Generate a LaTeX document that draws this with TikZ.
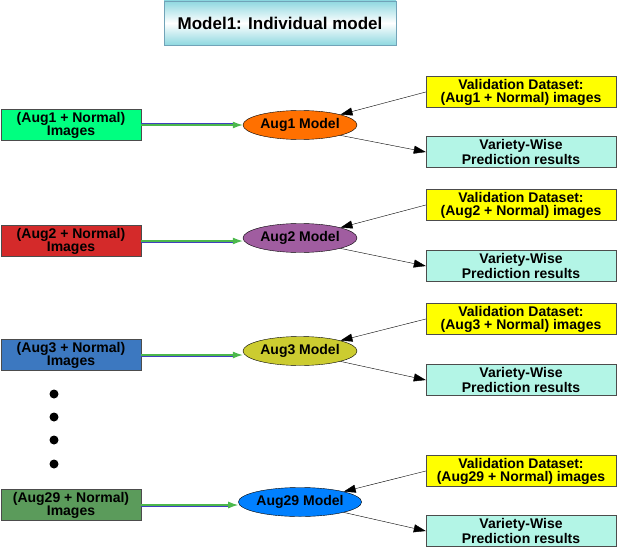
\documentclass[tikz,border=0pt]{standalone}
\usepackage{fontspec}
\setmainfont{Liberation Sans}
\usetikzlibrary{arrows.meta,shapes.geometric}
\begin{document}
\begin{tikzpicture}[x=1pt,y=-1pt,
 txt/.style={font=\bfseries\fontsize{14}{13}\selectfont,align=center,inner sep=0},
 lbox/.style={txt,draw=black!70,minimum width=140,minimum height=31},
 rbox/.style={txt,draw=black!70,minimum width=190,minimum height=31},
 ell/.style={txt,ellipse,draw=black,minimum width=114,minimum height=29},
 inarr/.style={line width=3pt,draw=blue!50!gray},
 inarr2/.style={line width=1.2pt,draw=green!60!black!70,-{Latex[length=10pt,width=7pt]}},
 arr/.style={draw=black,-{Triangle[length=12pt,width=8pt]}}]
\useasboundingbox (0,0) rectangle (617,548);
\definecolor{tc}{HTML}{8FD8E0}
\shade[top color=tc,bottom color=tc,middle color=white] (164,1) rectangle (396,45);
\draw[draw=cyan!40!gray] (164,1) rectangle (396,45);
\node[txt,font=\bfseries\fontsize{17}{17}\selectfont] (title) at (280,23) {Model1: Individual model};
\definecolor{c1}{HTML}{00FF80}\definecolor{c2}{HTML}{D42A2A}\definecolor{c3}{HTML}{3C78C0}\definecolor{c4}{HTML}{5B9B5B}
\definecolor{e1}{HTML}{FF7000}\definecolor{e2}{HTML}{A05DA0}\definecolor{e3}{HTML}{CCCC30}\definecolor{e4}{HTML}{0080FF}
\definecolor{vy}{HTML}{FFFF00}\definecolor{pc}{HTML}{B3F5E6}
\foreach \i/\n/\ly/\ey/\vy/\py in {1/1/125/125/92/152, 2/2/241/238/205/266, 3/3/355/351/319/380, 4/29/505/502/471/531}{
 \node[lbox,fill=c\i] (in\i) at (71,\ly) {(Aug\n{} + Normal)\\Images};
 \node[ell,fill=e\i] (m\i) at (300,\ey) {Aug\n{} Model};
 \node[rbox,fill=vy] (v\i) at (521,\vy) {Validation Dataset:\\(Aug\n{} + Normal) images};
 \node[rbox,fill=pc] (p\i) at (521,\py) {Variety-Wise\\Prediction results};
 \draw[inarr] (in\i.east) -- ([xshift=-10]in\i.east -| m\i.west);
 \draw[inarr2] (in\i.east) -- (in\i.east -| m\i.west);
 \draw[arr] (v\i.west) -- (m\i.north east);
 \draw[arr] (m\i.south east) -- (p\i.west);
}
\foreach \k/\y in {a/394,b/417,c/440,d/464}{\node[circle,fill=black,inner sep=0,minimum size=9] (dot\k) at (54,\y) {};}
\end{tikzpicture}
\end{document}
